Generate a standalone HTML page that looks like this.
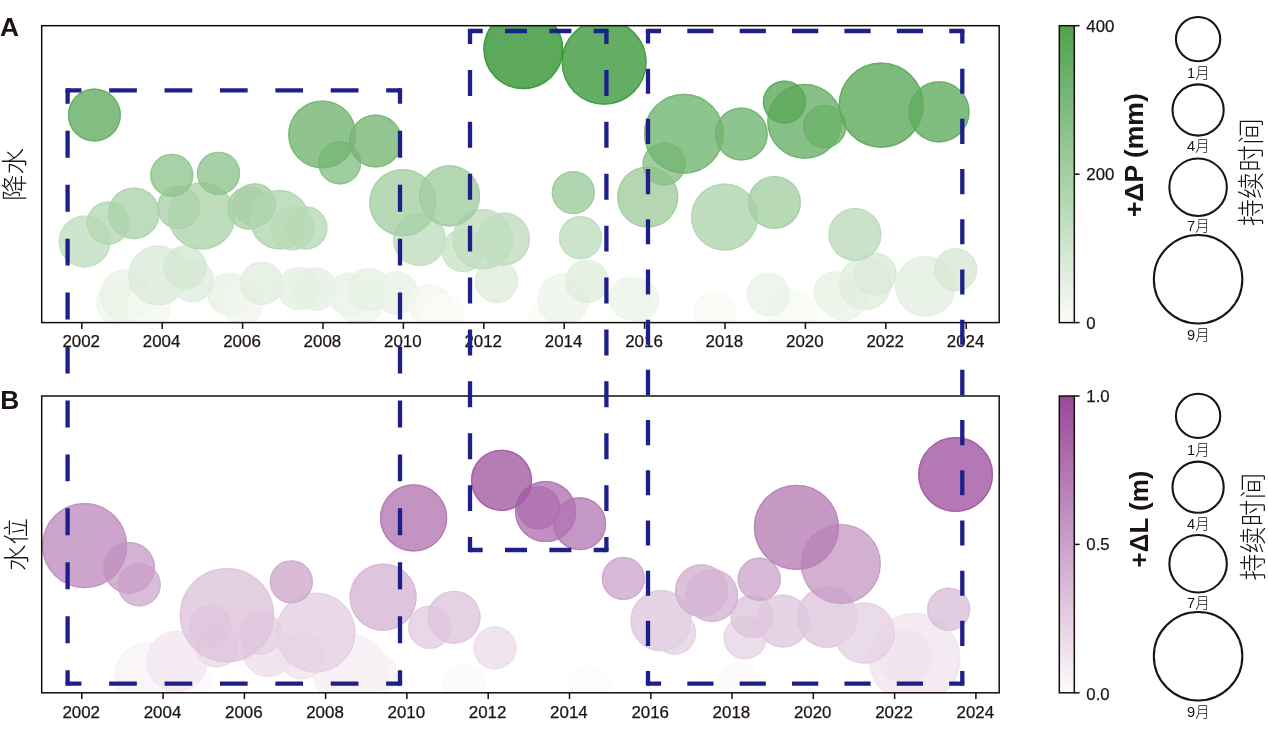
<!DOCTYPE html>
<html lang="zh"><head><meta charset="utf-8"><title>降水 / 水位</title>
<style>html,body{margin:0;padding:0;background:#fff;}svg{display:block;}text{font-family:"Liberation Sans","Noto Sans CJK SC",sans-serif;fill:#1c1413;}.tk{font-size:16.9px;stroke:#1c1413;stroke-width:0.25px;}.cj{font-family:"Liberation Sans","Noto Sans CJK SC",sans-serif;font-weight:300;}.b{font-weight:700;stroke:#1c1413;stroke-width:0;}</style></head><body>
<svg width="1268" height="741" viewBox="0 0 1268 741">
<defs>
<clipPath id="ca"><rect x="41.7" y="25.7" width="957.5" height="296.9"/></clipPath>
<clipPath id="cb"><rect x="41.7" y="396.0" width="957.5" height="296.8"/></clipPath>
<linearGradient id="gg" x1="0" y1="1" x2="0" y2="0"><stop offset="0" stop-color="#fbfcf9"/><stop offset="1" stop-color="#4ea24e"/></linearGradient>
<linearGradient id="gp" x1="0" y1="1" x2="0" y2="0"><stop offset="0" stop-color="#fdfbfb"/><stop offset="1" stop-color="#994899"/></linearGradient>
</defs>
<rect width="1268" height="741" fill="#fff"/>
<g clip-path="url(#ca)" stroke-width="1.4">
<circle cx="119.2" cy="303.0" r="22.8" fill="#f0f6ed" fill-opacity="0.80" stroke="none"/>
<circle cx="119.2" cy="303.0" r="22.1" fill="none" stroke="#f0f6ed" stroke-opacity="0.80"/>
<circle cx="125.6" cy="295.4" r="25.9" fill="#eaf3e7" fill-opacity="0.80" stroke="none"/>
<circle cx="125.6" cy="295.4" r="25.2" fill="none" stroke="#eaf3e7" stroke-opacity="0.80"/>
<circle cx="148.7" cy="308.2" r="21.6" fill="#f4f8f1" fill-opacity="0.80" stroke="none"/>
<circle cx="148.7" cy="308.2" r="20.9" fill="none" stroke="#f4f8f1" stroke-opacity="0.80"/>
<circle cx="229.0" cy="294.1" r="21.6" fill="#e9f2e6" fill-opacity="0.80" stroke="none"/>
<circle cx="229.0" cy="294.1" r="20.9" fill="none" stroke="#e9f2e6" stroke-opacity="0.80"/>
<circle cx="242.3" cy="304.7" r="20.3" fill="#f1f6ee" fill-opacity="0.80" stroke="none"/>
<circle cx="242.3" cy="304.7" r="19.6" fill="none" stroke="#f1f6ee" stroke-opacity="0.80"/>
<circle cx="158.2" cy="275.4" r="29.8" fill="#dbebd9" fill-opacity="0.80" stroke="none"/>
<circle cx="158.2" cy="275.4" r="29.1" fill="none" stroke="#dbebd9" stroke-opacity="0.80"/>
<circle cx="192.3" cy="280.5" r="21.6" fill="#dfeddd" fill-opacity="0.80" stroke="none"/>
<circle cx="192.3" cy="280.5" r="20.9" fill="none" stroke="#dfeddd" stroke-opacity="0.80"/>
<circle cx="185.1" cy="267.2" r="21.6" fill="#d5e8d3" fill-opacity="0.80" stroke="none"/>
<circle cx="185.1" cy="267.2" r="20.9" fill="none" stroke="#d5e8d3" stroke-opacity="0.80"/>
<circle cx="261.8" cy="283.3" r="21.6" fill="#e1eedf" fill-opacity="0.80" stroke="none"/>
<circle cx="261.8" cy="283.3" r="20.9" fill="none" stroke="#e1eedf" stroke-opacity="0.80"/>
<circle cx="299.0" cy="288.5" r="21.6" fill="#e5f0e2" fill-opacity="0.80" stroke="none"/>
<circle cx="299.0" cy="288.5" r="20.9" fill="none" stroke="#e5f0e2" stroke-opacity="0.80"/>
<circle cx="315.6" cy="289.0" r="21.6" fill="#e5f0e3" fill-opacity="0.80" stroke="none"/>
<circle cx="315.6" cy="289.0" r="20.9" fill="none" stroke="#e5f0e3" stroke-opacity="0.80"/>
<circle cx="349.0" cy="294.1" r="21.6" fill="#e9f2e6" fill-opacity="0.80" stroke="none"/>
<circle cx="349.0" cy="294.1" r="20.9" fill="none" stroke="#e9f2e6" stroke-opacity="0.80"/>
<circle cx="360.5" cy="301.8" r="23.3" fill="#eff5ec" fill-opacity="0.80" stroke="none"/>
<circle cx="360.5" cy="301.8" r="22.6" fill="none" stroke="#eff5ec" stroke-opacity="0.80"/>
<circle cx="369.0" cy="289.5" r="21.6" fill="#e6f1e3" fill-opacity="0.80" stroke="none"/>
<circle cx="369.0" cy="289.5" r="20.9" fill="none" stroke="#e6f1e3" stroke-opacity="0.80"/>
<circle cx="396.4" cy="292.8" r="21.6" fill="#e8f2e6" fill-opacity="0.80" stroke="none"/>
<circle cx="396.4" cy="292.8" r="20.9" fill="none" stroke="#e8f2e6" stroke-opacity="0.80"/>
<circle cx="429.7" cy="305.6" r="21.6" fill="#f2f7ef" fill-opacity="0.80" stroke="none"/>
<circle cx="429.7" cy="305.6" r="20.9" fill="none" stroke="#f2f7ef" stroke-opacity="0.80"/>
<circle cx="442.6" cy="315.9" r="21.6" fill="#f9fbf6" fill-opacity="0.80" stroke="none"/>
<circle cx="442.6" cy="315.9" r="20.9" fill="none" stroke="#f9fbf6" stroke-opacity="0.80"/>
<circle cx="496.6" cy="281.3" r="21.6" fill="#e0eddd" fill-opacity="0.80" stroke="none"/>
<circle cx="496.6" cy="281.3" r="20.9" fill="none" stroke="#e0eddd" stroke-opacity="0.80"/>
<circle cx="550.0" cy="318.0" r="21.6" fill="#fafbf7" fill-opacity="0.80" stroke="none"/>
<circle cx="550.0" cy="318.0" r="20.9" fill="none" stroke="#fafbf7" stroke-opacity="0.80"/>
<circle cx="563.6" cy="299.2" r="25.9" fill="#edf4ea" fill-opacity="0.80" stroke="none"/>
<circle cx="563.6" cy="299.2" r="25.2" fill="none" stroke="#edf4ea" stroke-opacity="0.80"/>
<circle cx="586.7" cy="281.3" r="21.6" fill="#e0eddd" fill-opacity="0.80" stroke="none"/>
<circle cx="586.7" cy="281.3" r="20.9" fill="none" stroke="#e0eddd" stroke-opacity="0.80"/>
<circle cx="630.6" cy="298.5" r="21.6" fill="#edf4ea" fill-opacity="0.80" stroke="none"/>
<circle cx="630.6" cy="298.5" r="20.9" fill="none" stroke="#edf4ea" stroke-opacity="0.80"/>
<circle cx="637.8" cy="300.0" r="21.6" fill="#eef5eb" fill-opacity="0.80" stroke="none"/>
<circle cx="637.8" cy="300.0" r="20.9" fill="none" stroke="#eef5eb" stroke-opacity="0.80"/>
<circle cx="714.4" cy="313.3" r="21.6" fill="#f8faf5" fill-opacity="0.80" stroke="none"/>
<circle cx="714.4" cy="313.3" r="20.9" fill="none" stroke="#f8faf5" stroke-opacity="0.80"/>
<circle cx="791.3" cy="314.6" r="25.9" fill="#f8faf5" fill-opacity="0.80" stroke="none"/>
<circle cx="791.3" cy="314.6" r="25.2" fill="none" stroke="#f8faf5" stroke-opacity="0.80"/>
<circle cx="768.2" cy="294.6" r="21.6" fill="#eaf3e7" fill-opacity="0.80" stroke="none"/>
<circle cx="768.2" cy="294.6" r="20.9" fill="none" stroke="#eaf3e7" stroke-opacity="0.80"/>
<circle cx="834.9" cy="292.8" r="21.6" fill="#e8f2e6" fill-opacity="0.80" stroke="none"/>
<circle cx="834.9" cy="292.8" r="20.9" fill="none" stroke="#e8f2e6" stroke-opacity="0.80"/>
<circle cx="843.5" cy="297.5" r="23.3" fill="#ecf4e9" fill-opacity="0.80" stroke="none"/>
<circle cx="843.5" cy="297.5" r="22.6" fill="none" stroke="#ecf4e9" stroke-opacity="0.80"/>
<circle cx="864.9" cy="283.8" r="26.5" fill="#e2eedf" fill-opacity="0.80" stroke="none"/>
<circle cx="864.9" cy="283.8" r="25.8" fill="none" stroke="#e2eedf" stroke-opacity="0.80"/>
<circle cx="875.1" cy="274.1" r="21.6" fill="#daebd8" fill-opacity="0.80" stroke="none"/>
<circle cx="875.1" cy="274.1" r="20.9" fill="none" stroke="#daebd8" stroke-opacity="0.80"/>
<circle cx="925.4" cy="286.4" r="30.3" fill="#e4efe1" fill-opacity="0.80" stroke="none"/>
<circle cx="925.4" cy="286.4" r="29.6" fill="none" stroke="#e4efe1" stroke-opacity="0.80"/>
<circle cx="955.6" cy="269.7" r="21.6" fill="#d7e9d5" fill-opacity="0.80" stroke="none"/>
<circle cx="955.6" cy="269.7" r="20.9" fill="none" stroke="#d7e9d5" stroke-opacity="0.80"/>
<circle cx="84.6" cy="241.5" r="25.9" fill="#c2dec0" fill-opacity="0.80" stroke="none"/>
<circle cx="84.6" cy="241.5" r="25.2" fill="none" stroke="#c2dec0" stroke-opacity="0.80"/>
<circle cx="108.2" cy="223.1" r="21.6" fill="#b5d7b3" fill-opacity="0.80" stroke="none"/>
<circle cx="108.2" cy="223.1" r="20.9" fill="none" stroke="#b5d7b3" stroke-opacity="0.80"/>
<circle cx="133.8" cy="213.3" r="25.9" fill="#add3ab" fill-opacity="0.80" stroke="none"/>
<circle cx="133.8" cy="213.3" r="25.2" fill="none" stroke="#add3ab" stroke-opacity="0.80"/>
<circle cx="178.7" cy="207.4" r="21.6" fill="#a9d1a7" fill-opacity="0.80" stroke="none"/>
<circle cx="178.7" cy="207.4" r="20.9" fill="none" stroke="#a9d1a7" stroke-opacity="0.80"/>
<circle cx="201.8" cy="215.9" r="33.6" fill="#afd4ad" fill-opacity="0.80" stroke="none"/>
<circle cx="201.8" cy="215.9" r="32.9" fill="none" stroke="#afd4ad" stroke-opacity="0.80"/>
<circle cx="248.7" cy="208.0" r="21.6" fill="#a9d1a7" fill-opacity="0.80" stroke="none"/>
<circle cx="248.7" cy="208.0" r="20.9" fill="none" stroke="#a9d1a7" stroke-opacity="0.80"/>
<circle cx="254.8" cy="204.8" r="21.6" fill="#a7d0a5" fill-opacity="0.80" stroke="none"/>
<circle cx="254.8" cy="204.8" r="20.9" fill="none" stroke="#a7d0a5" stroke-opacity="0.80"/>
<circle cx="279.7" cy="219.7" r="29.8" fill="#b2d6b0" fill-opacity="0.80" stroke="none"/>
<circle cx="279.7" cy="219.7" r="29.1" fill="none" stroke="#b2d6b0" stroke-opacity="0.80"/>
<circle cx="292.6" cy="228.7" r="21.6" fill="#b9d9b7" fill-opacity="0.80" stroke="none"/>
<circle cx="292.6" cy="228.7" r="20.9" fill="none" stroke="#b9d9b7" stroke-opacity="0.80"/>
<circle cx="305.9" cy="227.9" r="21.6" fill="#b8d9b6" fill-opacity="0.80" stroke="none"/>
<circle cx="305.9" cy="227.9" r="20.9" fill="none" stroke="#b8d9b6" stroke-opacity="0.80"/>
<circle cx="419.5" cy="239.5" r="26.5" fill="#c1ddbf" fill-opacity="0.80" stroke="none"/>
<circle cx="419.5" cy="239.5" r="25.8" fill="none" stroke="#c1ddbf" stroke-opacity="0.80"/>
<circle cx="463.1" cy="250.5" r="21.6" fill="#c9e2c7" fill-opacity="0.80" stroke="none"/>
<circle cx="463.1" cy="250.5" r="20.9" fill="none" stroke="#c9e2c7" stroke-opacity="0.80"/>
<circle cx="482.8" cy="239.3" r="30.3" fill="#c1ddbe" fill-opacity="0.80" stroke="none"/>
<circle cx="482.8" cy="239.3" r="29.6" fill="none" stroke="#c1ddbe" stroke-opacity="0.80"/>
<circle cx="503.6" cy="239.0" r="26.5" fill="#c0ddbe" fill-opacity="0.80" stroke="none"/>
<circle cx="503.6" cy="239.0" r="25.8" fill="none" stroke="#c0ddbe" stroke-opacity="0.80"/>
<circle cx="580.5" cy="237.7" r="21.6" fill="#bfddbd" fill-opacity="0.80" stroke="none"/>
<circle cx="580.5" cy="237.7" r="20.9" fill="none" stroke="#bfddbd" stroke-opacity="0.80"/>
<circle cx="724.6" cy="217.0" r="33.6" fill="#b0d5ae" fill-opacity="0.80" stroke="none"/>
<circle cx="724.6" cy="217.0" r="32.9" fill="none" stroke="#b0d5ae" stroke-opacity="0.80"/>
<circle cx="854.9" cy="234.4" r="26.5" fill="#bddbbb" fill-opacity="0.80" stroke="none"/>
<circle cx="854.9" cy="234.4" r="25.8" fill="none" stroke="#bddbbb" stroke-opacity="0.80"/>
<circle cx="402.8" cy="202.6" r="33.6" fill="#a5cfa4" fill-opacity="0.80" stroke="none"/>
<circle cx="402.8" cy="202.6" r="32.9" fill="none" stroke="#a5cfa4" stroke-opacity="0.80"/>
<circle cx="449.5" cy="195.9" r="30.6" fill="#a0cd9f" fill-opacity="0.80" stroke="none"/>
<circle cx="449.5" cy="195.9" r="29.9" fill="none" stroke="#a0cd9f" stroke-opacity="0.80"/>
<circle cx="573.3" cy="192.6" r="21.6" fill="#9ecb9c" fill-opacity="0.80" stroke="none"/>
<circle cx="573.3" cy="192.6" r="20.9" fill="none" stroke="#9ecb9c" stroke-opacity="0.80"/>
<circle cx="647.7" cy="197.0" r="30.6" fill="#a1cd9f" fill-opacity="0.80" stroke="none"/>
<circle cx="647.7" cy="197.0" r="29.9" fill="none" stroke="#a1cd9f" stroke-opacity="0.80"/>
<circle cx="774.4" cy="202.4" r="26.5" fill="#a5cfa3" fill-opacity="0.80" stroke="none"/>
<circle cx="774.4" cy="202.4" r="25.8" fill="none" stroke="#a5cfa3" stroke-opacity="0.80"/>
<circle cx="171.8" cy="175.3" r="21.6" fill="#91c590" fill-opacity="0.80" stroke="none"/>
<circle cx="171.8" cy="175.3" r="20.9" fill="none" stroke="#91c590" stroke-opacity="0.80"/>
<circle cx="218.5" cy="173.3" r="21.6" fill="#90c48e" fill-opacity="0.80" stroke="none"/>
<circle cx="218.5" cy="173.3" r="20.9" fill="none" stroke="#90c48e" stroke-opacity="0.80"/>
<circle cx="664.1" cy="164.1" r="21.6" fill="#89c087" fill-opacity="0.80" stroke="none"/>
<circle cx="664.1" cy="164.1" r="20.9" fill="none" stroke="#89c087" stroke-opacity="0.80"/>
<circle cx="339.7" cy="162.8" r="21.6" fill="#88c086" fill-opacity="0.80" stroke="none"/>
<circle cx="339.7" cy="162.8" r="20.9" fill="none" stroke="#88c086" stroke-opacity="0.80"/>
<circle cx="322.2" cy="134.4" r="34.0" fill="#73b572" fill-opacity="0.80" stroke="none"/>
<circle cx="322.2" cy="134.4" r="33.3" fill="none" stroke="#73b572" stroke-opacity="0.80"/>
<circle cx="375.6" cy="141.0" r="26.5" fill="#78b776" fill-opacity="0.80" stroke="none"/>
<circle cx="375.6" cy="141.0" r="25.8" fill="none" stroke="#78b776" stroke-opacity="0.80"/>
<circle cx="94.4" cy="115.1" r="26.5" fill="#64ad63" fill-opacity="0.80" stroke="none"/>
<circle cx="94.4" cy="115.1" r="25.8" fill="none" stroke="#64ad63" stroke-opacity="0.80"/>
<circle cx="683.9" cy="133.8" r="40.0" fill="#72b571" fill-opacity="0.80" stroke="none"/>
<circle cx="683.9" cy="133.8" r="39.3" fill="none" stroke="#72b571" stroke-opacity="0.80"/>
<circle cx="741.3" cy="134.1" r="26.5" fill="#72b571" fill-opacity="0.80" stroke="none"/>
<circle cx="741.3" cy="134.1" r="25.8" fill="none" stroke="#72b571" stroke-opacity="0.80"/>
<circle cx="804.7" cy="121.3" r="37.5" fill="#69b068" fill-opacity="0.80" stroke="none"/>
<circle cx="804.7" cy="121.3" r="36.8" fill="none" stroke="#69b068" stroke-opacity="0.80"/>
<circle cx="784.4" cy="102.1" r="21.6" fill="#5ba85a" fill-opacity="0.80" stroke="none"/>
<circle cx="784.4" cy="102.1" r="20.9" fill="none" stroke="#5ba85a" stroke-opacity="0.80"/>
<circle cx="824.7" cy="126.4" r="21.6" fill="#6db26c" fill-opacity="0.80" stroke="none"/>
<circle cx="824.7" cy="126.4" r="20.9" fill="none" stroke="#6db26c" stroke-opacity="0.80"/>
<circle cx="881.2" cy="105.1" r="42.6" fill="#5daa5c" fill-opacity="0.80" stroke="none"/>
<circle cx="881.2" cy="105.1" r="41.9" fill="none" stroke="#5daa5c" stroke-opacity="0.80"/>
<circle cx="939.0" cy="111.8" r="30.6" fill="#62ac61" fill-opacity="0.80" stroke="none"/>
<circle cx="939.0" cy="111.8" r="29.9" fill="none" stroke="#62ac61" stroke-opacity="0.80"/>
<circle cx="604.1" cy="62.1" r="42.6" fill="#3d993d" fill-opacity="0.80" stroke="none"/>
<circle cx="604.1" cy="62.1" r="41.9" fill="none" stroke="#3d993d" stroke-opacity="0.80"/>
<circle cx="523.3" cy="49.2" r="40.0" fill="#339433" fill-opacity="0.80" stroke="none"/>
<circle cx="523.3" cy="49.2" r="39.3" fill="none" stroke="#339433" stroke-opacity="0.80"/>
</g>
<g clip-path="url(#cb)" stroke-width="1.4">
<circle cx="189.7" cy="684.3" r="21.6" fill="#fcf9fa" fill-opacity="0.80" stroke="none"/>
<circle cx="189.7" cy="684.3" r="20.9" fill="none" stroke="#fcf9fa" stroke-opacity="0.80"/>
<circle cx="148.7" cy="676.6" r="34.3" fill="#f8f3f6" fill-opacity="0.80" stroke="none"/>
<circle cx="148.7" cy="676.6" r="33.6" fill="none" stroke="#f8f3f6" stroke-opacity="0.80"/>
<circle cx="176.9" cy="661.3" r="30.6" fill="#f2e7f0" fill-opacity="0.80" stroke="none"/>
<circle cx="176.9" cy="661.3" r="29.9" fill="none" stroke="#f2e7f0" stroke-opacity="0.80"/>
<circle cx="350.3" cy="671.5" r="37.5" fill="#f6eff4" fill-opacity="0.80" stroke="none"/>
<circle cx="350.3" cy="671.5" r="36.8" fill="none" stroke="#f6eff4" stroke-opacity="0.80"/>
<circle cx="375.9" cy="674.1" r="21.6" fill="#f7f1f5" fill-opacity="0.80" stroke="none"/>
<circle cx="375.9" cy="674.1" r="20.9" fill="none" stroke="#f7f1f5" stroke-opacity="0.80"/>
<circle cx="464.4" cy="684.3" r="21.6" fill="#fcf9fa" fill-opacity="0.80" stroke="none"/>
<circle cx="464.4" cy="684.3" r="20.9" fill="none" stroke="#fcf9fa" stroke-opacity="0.80"/>
<circle cx="588.7" cy="686.9" r="21.6" fill="#fcfafa" fill-opacity="0.80" stroke="none"/>
<circle cx="588.7" cy="686.9" r="20.9" fill="none" stroke="#fcfafa" stroke-opacity="0.80"/>
<circle cx="738.7" cy="684.3" r="21.6" fill="#fcf9fa" fill-opacity="0.80" stroke="none"/>
<circle cx="738.7" cy="684.3" r="20.9" fill="none" stroke="#fcf9fa" stroke-opacity="0.80"/>
<circle cx="914.6" cy="658.7" r="45.7" fill="#f0e5ef" fill-opacity="0.80" stroke="none"/>
<circle cx="914.6" cy="658.7" r="45.0" fill="none" stroke="#f0e5ef" stroke-opacity="0.80"/>
<circle cx="904.9" cy="656.6" r="26.5" fill="#f0e4ee" fill-opacity="0.80" stroke="none"/>
<circle cx="904.9" cy="656.6" r="25.8" fill="none" stroke="#f0e4ee" stroke-opacity="0.80"/>
<circle cx="268.2" cy="651.0" r="25.9" fill="#eddfec" fill-opacity="0.80" stroke="none"/>
<circle cx="268.2" cy="651.0" r="25.2" fill="none" stroke="#eddfec" stroke-opacity="0.80"/>
<circle cx="301.5" cy="656.1" r="23.3" fill="#efe3ee" fill-opacity="0.80" stroke="none"/>
<circle cx="301.5" cy="656.1" r="22.6" fill="none" stroke="#efe3ee" stroke-opacity="0.80"/>
<circle cx="216.7" cy="645.9" r="21.6" fill="#ebdbe9" fill-opacity="0.80" stroke="none"/>
<circle cx="216.7" cy="645.9" r="20.9" fill="none" stroke="#ebdbe9" stroke-opacity="0.80"/>
<circle cx="494.9" cy="647.9" r="21.6" fill="#ecddea" fill-opacity="0.80" stroke="none"/>
<circle cx="494.9" cy="647.9" r="20.9" fill="none" stroke="#ecddea" stroke-opacity="0.80"/>
<circle cx="315.6" cy="632.5" r="40.0" fill="#e5d1e4" fill-opacity="0.80" stroke="none"/>
<circle cx="315.6" cy="632.5" r="39.3" fill="none" stroke="#e5d1e4" stroke-opacity="0.80"/>
<circle cx="260.5" cy="633.1" r="21.6" fill="#e5d2e4" fill-opacity="0.80" stroke="none"/>
<circle cx="260.5" cy="633.1" r="20.9" fill="none" stroke="#e5d2e4" stroke-opacity="0.80"/>
<circle cx="210.3" cy="626.6" r="21.6" fill="#e3cde1" fill-opacity="0.80" stroke="none"/>
<circle cx="210.3" cy="626.6" r="20.9" fill="none" stroke="#e3cde1" stroke-opacity="0.80"/>
<circle cx="226.9" cy="615.1" r="47.2" fill="#dec4dc" fill-opacity="0.80" stroke="none"/>
<circle cx="226.9" cy="615.1" r="46.5" fill="none" stroke="#dec4dc" stroke-opacity="0.80"/>
<circle cx="429.7" cy="627.2" r="21.6" fill="#e3cde1" fill-opacity="0.80" stroke="none"/>
<circle cx="429.7" cy="627.2" r="20.9" fill="none" stroke="#e3cde1" stroke-opacity="0.80"/>
<circle cx="454.1" cy="617.2" r="26.5" fill="#dfc5dd" fill-opacity="0.80" stroke="none"/>
<circle cx="454.1" cy="617.2" r="25.8" fill="none" stroke="#dfc5dd" stroke-opacity="0.80"/>
<circle cx="661.0" cy="620.7" r="30.6" fill="#e0c8df" fill-opacity="0.80" stroke="none"/>
<circle cx="661.0" cy="620.7" r="29.9" fill="none" stroke="#e0c8df" stroke-opacity="0.80"/>
<circle cx="674.6" cy="633.1" r="21.6" fill="#e5d2e4" fill-opacity="0.80" stroke="none"/>
<circle cx="674.6" cy="633.1" r="20.9" fill="none" stroke="#e5d2e4" stroke-opacity="0.80"/>
<circle cx="745.1" cy="637.7" r="21.6" fill="#e7d5e6" fill-opacity="0.80" stroke="none"/>
<circle cx="745.1" cy="637.7" r="20.9" fill="none" stroke="#e7d5e6" stroke-opacity="0.80"/>
<circle cx="752.1" cy="616.4" r="21.6" fill="#dec5dd" fill-opacity="0.80" stroke="none"/>
<circle cx="752.1" cy="616.4" r="20.9" fill="none" stroke="#dec5dd" stroke-opacity="0.80"/>
<circle cx="783.1" cy="621.0" r="26.5" fill="#e0c8df" fill-opacity="0.80" stroke="none"/>
<circle cx="783.1" cy="621.0" r="25.8" fill="none" stroke="#e0c8df" stroke-opacity="0.80"/>
<circle cx="827.2" cy="617.2" r="30.6" fill="#dfc5dd" fill-opacity="0.80" stroke="none"/>
<circle cx="827.2" cy="617.2" r="29.9" fill="none" stroke="#dfc5dd" stroke-opacity="0.80"/>
<circle cx="864.4" cy="633.1" r="30.6" fill="#e5d2e4" fill-opacity="0.80" stroke="none"/>
<circle cx="864.4" cy="633.1" r="29.9" fill="none" stroke="#e5d2e4" stroke-opacity="0.80"/>
<circle cx="948.7" cy="609.2" r="21.6" fill="#dbbfda" fill-opacity="0.80" stroke="none"/>
<circle cx="948.7" cy="609.2" r="20.9" fill="none" stroke="#dbbfda" stroke-opacity="0.80"/>
<circle cx="383.1" cy="597.2" r="33.6" fill="#d6b6d5" fill-opacity="0.80" stroke="none"/>
<circle cx="383.1" cy="597.2" r="32.9" fill="none" stroke="#d6b6d5" stroke-opacity="0.80"/>
<circle cx="291.3" cy="581.8" r="21.6" fill="#cfaace" fill-opacity="0.80" stroke="none"/>
<circle cx="291.3" cy="581.8" r="20.9" fill="none" stroke="#cfaace" stroke-opacity="0.80"/>
<circle cx="139.2" cy="584.8" r="21.6" fill="#d1acd0" fill-opacity="0.80" stroke="none"/>
<circle cx="139.2" cy="584.8" r="20.9" fill="none" stroke="#d1acd0" stroke-opacity="0.80"/>
<circle cx="129.2" cy="567.8" r="25.9" fill="#c99fc8" fill-opacity="0.80" stroke="none"/>
<circle cx="129.2" cy="567.8" r="25.2" fill="none" stroke="#c99fc8" stroke-opacity="0.80"/>
<circle cx="701.5" cy="590.7" r="26.5" fill="#d3b1d2" fill-opacity="0.80" stroke="none"/>
<circle cx="701.5" cy="590.7" r="25.8" fill="none" stroke="#d3b1d2" stroke-opacity="0.80"/>
<circle cx="711.8" cy="595.4" r="26.5" fill="#d5b4d4" fill-opacity="0.80" stroke="none"/>
<circle cx="711.8" cy="595.4" r="25.8" fill="none" stroke="#d5b4d4" stroke-opacity="0.80"/>
<circle cx="759.2" cy="579.2" r="21.6" fill="#cea8cd" fill-opacity="0.80" stroke="none"/>
<circle cx="759.2" cy="579.2" r="20.9" fill="none" stroke="#cea8cd" stroke-opacity="0.80"/>
<circle cx="623.3" cy="578.4" r="21.6" fill="#cea7cd" fill-opacity="0.80" stroke="none"/>
<circle cx="623.3" cy="578.4" r="20.9" fill="none" stroke="#cea7cd" stroke-opacity="0.80"/>
<circle cx="840.8" cy="563.9" r="40.0" fill="#c89cc7" fill-opacity="0.80" stroke="none"/>
<circle cx="840.8" cy="563.9" r="39.3" fill="none" stroke="#c89cc7" stroke-opacity="0.80"/>
<circle cx="84.6" cy="545.7" r="42.6" fill="#c08ebf" fill-opacity="0.80" stroke="none"/>
<circle cx="84.6" cy="545.7" r="41.9" fill="none" stroke="#c08ebf" stroke-opacity="0.80"/>
<circle cx="796.4" cy="527.3" r="42.6" fill="#b880b7" fill-opacity="0.80" stroke="none"/>
<circle cx="796.4" cy="527.3" r="41.9" fill="none" stroke="#b880b7" stroke-opacity="0.80"/>
<circle cx="413.6" cy="517.9" r="33.6" fill="#b478b3" fill-opacity="0.80" stroke="none"/>
<circle cx="413.6" cy="517.9" r="32.9" fill="none" stroke="#b478b3" stroke-opacity="0.80"/>
<circle cx="579.7" cy="523.8" r="26.5" fill="#b67db6" fill-opacity="0.80" stroke="none"/>
<circle cx="579.7" cy="523.8" r="25.8" fill="none" stroke="#b67db6" stroke-opacity="0.80"/>
<circle cx="545.6" cy="511.5" r="30.6" fill="#b173b1" fill-opacity="0.80" stroke="none"/>
<circle cx="545.6" cy="511.5" r="29.9" fill="none" stroke="#b173b1" stroke-opacity="0.80"/>
<circle cx="538.7" cy="507.7" r="21.6" fill="#af70af" fill-opacity="0.80" stroke="none"/>
<circle cx="538.7" cy="507.7" r="20.9" fill="none" stroke="#af70af" stroke-opacity="0.80"/>
<circle cx="501.5" cy="480.3" r="30.6" fill="#a35ba4" fill-opacity="0.80" stroke="none"/>
<circle cx="501.5" cy="480.3" r="29.9" fill="none" stroke="#a35ba4" stroke-opacity="0.80"/>
<circle cx="955.6" cy="474.4" r="37.5" fill="#a157a1" fill-opacity="0.80" stroke="none"/>
<circle cx="955.6" cy="474.4" r="36.8" fill="none" stroke="#a157a1" stroke-opacity="0.80"/>
</g>
<g stroke="#140f0e" stroke-width="1.5" fill="none">
<rect x="41.7" y="25.7" width="957.5" height="296.9"/>
<line x1="81.8" y1="322.6" x2="81.8" y2="328.9"/>
<line x1="162.2" y1="322.6" x2="162.2" y2="328.9"/>
<line x1="242.6" y1="322.6" x2="242.6" y2="328.9"/>
<line x1="323.0" y1="322.6" x2="323.0" y2="328.9"/>
<line x1="403.4" y1="322.6" x2="403.4" y2="328.9"/>
<line x1="483.8" y1="322.6" x2="483.8" y2="328.9"/>
<line x1="564.2" y1="322.6" x2="564.2" y2="328.9"/>
<line x1="644.6" y1="322.6" x2="644.6" y2="328.9"/>
<line x1="725.0" y1="322.6" x2="725.0" y2="328.9"/>
<line x1="805.4" y1="322.6" x2="805.4" y2="328.9"/>
<line x1="885.8" y1="322.6" x2="885.8" y2="328.9"/>
<line x1="966.2" y1="322.6" x2="966.2" y2="328.9"/>
</g>
<g class="tk" text-anchor="middle">
<text x="81.2" y="347.2">2002</text>
<text x="161.6" y="347.2">2004</text>
<text x="242.0" y="347.2">2006</text>
<text x="322.4" y="347.2">2008</text>
<text x="402.8" y="347.2">2010</text>
<text x="483.2" y="347.2">2012</text>
<text x="563.6" y="347.2">2014</text>
<text x="644.0" y="347.2">2016</text>
<text x="724.4" y="347.2">2018</text>
<text x="804.8" y="347.2">2020</text>
<text x="885.2" y="347.2">2022</text>
<text x="965.6" y="347.2">2024</text>
</g>
<g stroke="#140f0e" stroke-width="1.5" fill="none">
<rect x="41.7" y="396.0" width="957.5" height="296.8"/>
<line x1="81.8" y1="692.8" x2="81.8" y2="699.1"/>
<line x1="163.1" y1="692.8" x2="163.1" y2="699.1"/>
<line x1="244.4" y1="692.8" x2="244.4" y2="699.1"/>
<line x1="325.6" y1="692.8" x2="325.6" y2="699.1"/>
<line x1="406.9" y1="692.8" x2="406.9" y2="699.1"/>
<line x1="488.2" y1="692.8" x2="488.2" y2="699.1"/>
<line x1="569.5" y1="692.8" x2="569.5" y2="699.1"/>
<line x1="650.8" y1="692.8" x2="650.8" y2="699.1"/>
<line x1="732.0" y1="692.8" x2="732.0" y2="699.1"/>
<line x1="813.3" y1="692.8" x2="813.3" y2="699.1"/>
<line x1="894.6" y1="692.8" x2="894.6" y2="699.1"/>
<line x1="975.9" y1="692.8" x2="975.9" y2="699.1"/>
</g>
<g class="tk" text-anchor="middle">
<text x="81.2" y="718.2">2002</text>
<text x="162.5" y="718.2">2004</text>
<text x="243.8" y="718.2">2006</text>
<text x="325.0" y="718.2">2008</text>
<text x="406.3" y="718.2">2010</text>
<text x="487.6" y="718.2">2012</text>
<text x="568.9" y="718.2">2014</text>
<text x="650.2" y="718.2">2016</text>
<text x="731.4" y="718.2">2018</text>
<text x="812.7" y="718.2">2020</text>
<text x="894.0" y="718.2">2022</text>
<text x="975.3" y="718.2">2024</text>
</g>
<g stroke="#1d2088" stroke-width="4.3" fill="none">
<line x1="67.6" y1="90.3" x2="400.0" y2="90.3" stroke-dasharray="27.70 27.70" stroke-dashoffset="13.85"/>
<line x1="67.6" y1="683.6" x2="400.0" y2="683.6" stroke-dasharray="27.70 27.70" stroke-dashoffset="13.85"/>
<line x1="67.6" y1="90.3" x2="67.6" y2="683.6" stroke-dasharray="26.97 26.97" stroke-dashoffset="13.48"/>
<line x1="400.0" y1="90.3" x2="400.0" y2="683.6" stroke-dasharray="26.97 26.97" stroke-dashoffset="13.48"/>
<rect x="65.45" y="88.15" width="4.3" height="4.3" fill="#1d2088" stroke="none"/>
<rect x="397.85" y="88.15" width="4.3" height="4.3" fill="#1d2088" stroke="none"/>
<rect x="65.45" y="681.45" width="4.3" height="4.3" fill="#1d2088" stroke="none"/>
<rect x="397.85" y="681.45" width="4.3" height="4.3" fill="#1d2088" stroke="none"/>
<line x1="470.0" y1="31.0" x2="606.4" y2="31.0" stroke-dasharray="12.70 22.30 22.05 22.30 22.05 22.30 12.70 0.00"/>
<line x1="470.0" y1="550.0" x2="606.4" y2="550.0" stroke-dasharray="12.70 22.30 22.05 22.30 22.05 22.30 12.70 0.00"/>
<line x1="470.0" y1="31.0" x2="470.0" y2="550.0" stroke-dasharray="25.95 25.95" stroke-dashoffset="12.97"/>
<line x1="606.4" y1="31.0" x2="606.4" y2="550.0" stroke-dasharray="25.95 25.95" stroke-dashoffset="12.97"/>
<rect x="467.85" y="28.85" width="4.3" height="4.3" fill="#1d2088" stroke="none"/>
<rect x="604.25" y="28.85" width="4.3" height="4.3" fill="#1d2088" stroke="none"/>
<rect x="467.85" y="547.85" width="4.3" height="4.3" fill="#1d2088" stroke="none"/>
<rect x="604.25" y="547.85" width="4.3" height="4.3" fill="#1d2088" stroke="none"/>
<line x1="648.0" y1="31.0" x2="962.3" y2="31.0" stroke-dasharray="26.19 26.19" stroke-dashoffset="13.10"/>
<line x1="648.0" y1="683.6" x2="962.3" y2="683.6" stroke-dasharray="26.19 26.19" stroke-dashoffset="13.10"/>
<line x1="648.0" y1="31.0" x2="648.0" y2="683.6" stroke-dasharray="25.10 25.10" stroke-dashoffset="12.55"/>
<line x1="962.3" y1="31.0" x2="962.3" y2="683.6" stroke-dasharray="25.10 25.10" stroke-dashoffset="12.55"/>
<rect x="645.85" y="28.85" width="4.3" height="4.3" fill="#1d2088" stroke="none"/>
<rect x="960.15" y="28.85" width="4.3" height="4.3" fill="#1d2088" stroke="none"/>
<rect x="645.85" y="681.45" width="4.3" height="4.3" fill="#1d2088" stroke="none"/>
<rect x="960.15" y="681.45" width="4.3" height="4.3" fill="#1d2088" stroke="none"/>
</g>
<rect x="1059.3" y="25.7" width="15" height="296.9" fill="url(#gg)" stroke="#140f0e" stroke-width="1.5"/>
<g stroke="#140f0e" stroke-width="1.5">
<line x1="1074.3" y1="25.7" x2="1079.6" y2="25.7"/>
<line x1="1074.3" y1="174.2" x2="1079.6" y2="174.2"/>
<line x1="1074.3" y1="322.6" x2="1079.6" y2="322.6"/>
</g><g class="tk">
<text x="1086.3" y="31.6" font-size="16.8">400</text>
<text x="1086.3" y="180.1" font-size="16.8">200</text>
<text x="1086.3" y="329.3" font-size="16.8">0</text>
</g>
<rect x="1059.3" y="396.0" width="15" height="296.8" fill="url(#gp)" stroke="#140f0e" stroke-width="1.5"/>
<g stroke="#140f0e" stroke-width="1.5">
<line x1="1074.3" y1="396.0" x2="1079.6" y2="396.0"/>
<line x1="1074.3" y1="544.4" x2="1079.6" y2="544.4"/>
<line x1="1074.3" y1="692.8" x2="1079.6" y2="692.8"/>
</g><g class="tk">
<text x="1086.3" y="401.9" font-size="16.8">1.0</text>
<text x="1086.3" y="550.3" font-size="16.8">0.5</text>
<text x="1086.3" y="699.5" font-size="16.8">0.0</text>
</g>
<g fill="none" stroke="#1c1413" stroke-width="2.1">
<circle cx="1198.1" cy="39.1" r="22.15"/>
<circle cx="1198.1" cy="110.0" r="25.60"/>
<circle cx="1198.1" cy="187.2" r="28.75"/>
<circle cx="1198.1" cy="279.2" r="44.25"/>
</g><g class="cj" font-size="14.6" text-anchor="middle">
<text x="1198.4" y="77.5">1月</text>
<text x="1198.4" y="150.7">4月</text>
<text x="1198.4" y="231.3">7月</text>
<text x="1198.4" y="340.2">9月</text>
</g>
<g fill="none" stroke="#1c1413" stroke-width="2.1">
<circle cx="1198.1" cy="415.9" r="22.15"/>
<circle cx="1198.1" cy="487.2" r="25.60"/>
<circle cx="1198.1" cy="563.8" r="28.75"/>
<circle cx="1198.1" cy="656.3" r="44.25"/>
</g><g class="cj" font-size="14.6" text-anchor="middle">
<text x="1198.4" y="454.6">1月</text>
<text x="1198.4" y="528.5">4月</text>
<text x="1198.4" y="608.4">7月</text>
<text x="1198.4" y="716.7">9月</text>
</g>
<text class="b" font-size="26.5" text-anchor="middle" transform="translate(1143.4 155.2) rotate(-90)">+ΔP (mm)</text>
<text class="b" font-size="26" text-anchor="middle" transform="translate(1148.0 519.0) rotate(-90)">+ΔL (m)</text>
<text class="cj" font-size="27" text-anchor="middle" transform="translate(1260.6 172.0) rotate(-90)">持续时间</text>
<text class="cj" font-size="27" text-anchor="middle" transform="translate(1263.3 526.6) rotate(-90)">持续时间</text>
<text class="cj" font-size="26.5" text-anchor="middle" transform="translate(24.1 174.6) rotate(-90)">降水</text>
<text class="cj" font-size="26.5" text-anchor="middle" transform="translate(26.2 544.6) rotate(-90)">水位</text>
<text class="b" font-size="26.3" x="0" y="35.9">A</text>
<text class="b" font-size="26.3" x="0.2" y="409">B</text>
</svg></body></html>
